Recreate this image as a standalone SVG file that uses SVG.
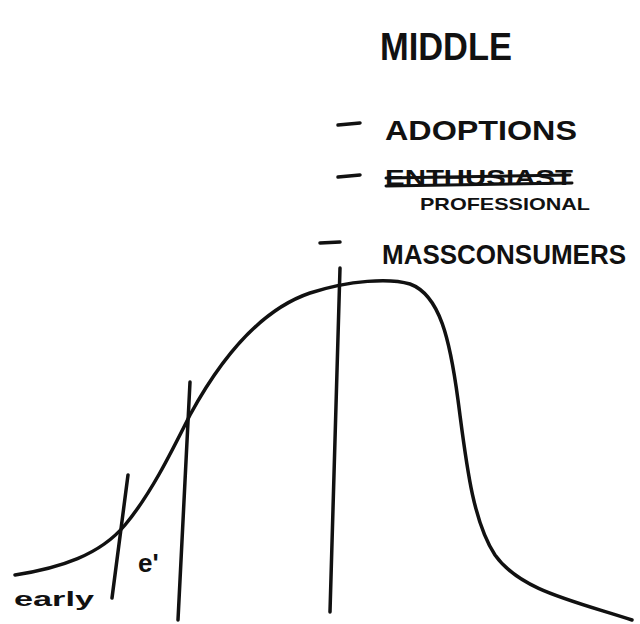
<svg xmlns="http://www.w3.org/2000/svg" width="640" height="624" viewBox="0 0 640 624">
<style>
.ink{fill:none;stroke:#111;stroke-width:3.5;stroke-linecap:round;stroke-linejoin:round}
.t{font-family:"Liberation Sans","DejaVu Sans",sans-serif;fill:#111;font-weight:bold}
</style>
<rect width="640" height="624" fill="#fff"/>
<g id="title"><text class="t" x="380" y="60" font-size="38" textLength="132" lengthAdjust="spacingAndGlyphs">MIDDLE</text></g>
<g id="list">
<path class="ink" d="M338 125 L360 123 M338 177 L360 175 M320 243 L340 242"/>
<text class="t" x="385" y="140" font-size="28" textLength="192" lengthAdjust="spacingAndGlyphs">ADOPTIONS</text>
<text class="t" x="385" y="185" font-size="22" textLength="188" lengthAdjust="spacingAndGlyphs">ENTHUSIAST</text>
<path class="ink" d="M386 178 L570 175 M386 186 L572 183" style="stroke-width:3"/>
<text class="t" x="420" y="210" font-size="17" textLength="170" lengthAdjust="spacingAndGlyphs">PROFESSIONAL</text>
<text class="t" x="382" y="264" font-size="27" textLength="244" lengthAdjust="spacingAndGlyphs">MASSCONSUMERS</text>
</g>
<g id="connectors">
<path class="ink" d="M15 575 C60 568 100 555 125 525 C150 495 170 455 190 415 C220 360 260 310 310 293 C350 280 390 278 410 284 C440 295 450 340 458 400 C466 460 472 520 495 555 C520 590 570 600 632 620"/>
<path class="ink" d="M128 475 L112 598 M190 382 L178 620 M340 268 L330 612"/>
</g>
<g id="labels">
<text class="t" x="14" y="606" font-size="20" textLength="80" lengthAdjust="spacingAndGlyphs">early</text>
<text class="t" x="138" y="572" font-size="26">e'</text>
</g>
</svg>
